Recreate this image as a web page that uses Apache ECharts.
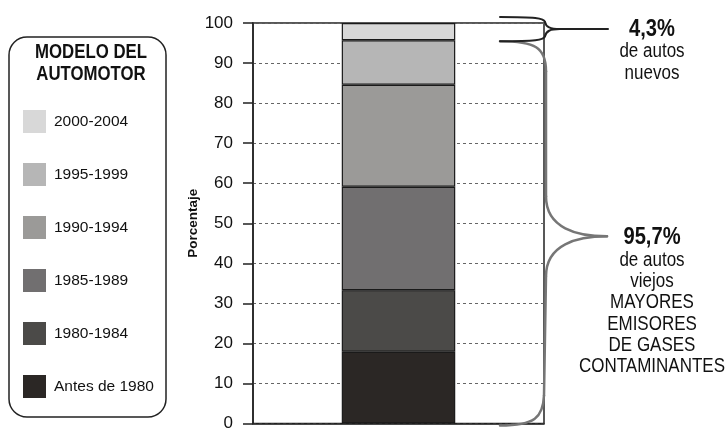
<!DOCTYPE html>
<html>
<head>
<meta charset="utf-8">
<script src="https://cdn.jsdelivr.net/npm/echarts@6/dist/echarts.min.js"></script>
<style>
html,body{margin:0;padding:0;background:#fff;}
#c{width:727px;height:432px;}
</style>
</head>
<body>
<div id="c"></div>
<script>
// ---- data ----
const categories = ['Autos'];
const seriesNames = ['Antes de 1980', '1980-1984', '1985-1989', '1990-1994', '1995-1999', '2000-2004'];
const seriesValues = [17.9, 15.4, 25.8, 25.5, 11.1, 4.3];
const seriesColors = ['#2b2725', '#4b4a48', '#716f70', '#9b9a98', '#b6b6b6', '#d8d8d8'];
const yTicks = [0, 10, 20, 30, 40, 50, 60, 70, 80, 90, 100];
const legendTitle = ['MODELO DEL', 'AUTOMOTOR'];
const yAxisName = 'Porcentaje';
const newLines = ['de autos', 'nuevos'];
const oldLines = ['de autos', 'viejos', 'MAYORES', 'EMISORES', 'DE GASES', 'CONTAMINANTES'];

const FONT = "'Liberation Sans',Arial,sans-serif";
const chart = echarts.init(document.getElementById('c'), null, {renderer: 'canvas'});

const series = seriesNames.map((n, i) => ({
  name: n,
  type: 'bar',
  stack: 'total',
  barWidth: '39%',
  data: [seriesValues[i]],
  itemStyle: {color: seriesColors[i], borderColor: '#1a1a1a', borderWidth: 1.2},
  emphasis: {disabled: true}
}));

const option = {
  animation: false,
  backgroundColor: '#fff',
  legend: {
    orient: 'vertical', left: 18, top: 105,
    itemWidth: 23, itemHeight: 23, itemGap: 30,
    icon: 'rect', selectedMode: false,
    itemStyle: {borderWidth: 0},
    data: seriesNames.slice().reverse(),
    textStyle: {fontFamily: FONT, fontSize: 15.5, color: '#111', padding: [0, 0, 0, 3]}
  },
  grid: {left: 253, right: 183, top: 23, bottom: 6, show: true, borderColor: '#222', borderWidth: 1.5, containLabel: false},
  xAxis: {
    type: 'category', data: categories,
    axisLine: {lineStyle: {color: '#222', width: 1.5}},
    axisTick: {show: false}, axisLabel: {show: false}
  },
  yAxis: {
    type: 'value', min: yTicks[0], max: yTicks[yTicks.length - 1], interval: yTicks[1] - yTicks[0],
    name: yAxisName, nameLocation: 'middle', nameRotate: 90, nameGap: 44,
    nameTextStyle: {fontFamily: FONT, fontSize: 13.5, fontWeight: 'bold', color: '#111'},
    axisLine: {show: true, lineStyle: {color: '#222', width: 1.5}},
    axisTick: {show: true, length: 10, lineStyle: {color: '#222', width: 1.5}},
    axisLabel: {fontFamily: FONT, fontSize: 17, color: '#111', margin: 20},
    splitLine: {show: true, lineStyle: {color: '#666', width: 1, type: [3, 3]}}
  },
  series: series
};
chart.setOption(option);

// ---- annotations (braces) positioned from the axis scale ----
const newPct = seriesValues[seriesValues.length - 1];
const oldPct = +(100 - newPct).toFixed(1);
const fmt = v => v.toFixed(1).replace('.', ',') + '%';
const yp = v => chart.convertToPixel({yAxisIndex: 0}, v);

const yTop = yp(100) - 6;
const ySplit = yp(oldPct) + 1;
const yBot = yp(0) + 2;
const yMidS = (yTop + ySplit) / 2;
const yMidB = (ySplit + yBot) / 2 + 3;
const x0 = 500, xv = 546, tipB = 607;

function bz(x1, y1, c1x, c1y, c2x, c2y, x2, y2, stroke, w, z) {
  return {type: 'bezierCurve', shape: {x1: x1, y1: y1, cpx1: c1x, cpy1: c1y, cpx2: c2x, cpy2: c2y, x2: x2, y2: y2},
    style: {fill: null, stroke: stroke, lineWidth: w, lineCap: 'round'}, z: z};
}
function ln(x1, y1, x2, y2, stroke, w, z) {
  return {type: 'line', shape: {x1: x1, y1: y1, x2: x2, y2: y2}, style: {stroke: stroke, lineWidth: w, lineCap: 'round'}, z: z};
}
const G = '#767676', K = '#222';
const braces = [
  // big grey brace
  bz(x0, ySplit, x0 + 35, ySplit, xv, ySplit + 6, xv, ySplit + 30, G, 2.5, 10),
  ln(xv, ySplit + 30, xv, yMidB - 40, G, 2.5, 10),
  bz(xv, yMidB - 40, xv, yMidB - 8, tipB - 30, yMidB, tipB, yMidB, G, 2.5, 10),
  bz(tipB, yMidB, tipB - 30, yMidB, xv, yMidB + 8, xv, yMidB + 40, G, 2.5, 10),
  ln(xv, yMidB + 40, xv - 2, yBot - 30, G, 2.5, 10),
  bz(xv - 2, yBot - 30, xv - 3, yBot - 8, x0 + 35, yBot, x0, yBot, G, 2.5, 10),
  // small dark brace
  bz(x0, yTop, x0 + 35, yTop, xv - 2, yTop + 1, xv - 1, yTop + 5, K, 2, 11),
  bz(xv - 1, yTop + 5, xv, yMidS - 2, xv + 4, yMidS, xv + 14, yMidS, K, 2, 11),
  bz(xv + 14, yMidS, xv + 4, yMidS, xv, yMidS + 2, xv - 1, ySplit - 5, K, 2, 11),
  bz(xv - 1, ySplit - 5, xv - 2, ySplit - 1, x0 + 35, ySplit, x0, ySplit, K, 2, 11),
  ln(xv + 14, yMidS, 608, yMidS, K, 2, 11)
];

const cx = 652;
function txt(t, x, y, size, bold, sx) {
  return {type: 'text', x: x, y: y, scaleX: sx, z: 12,
    style: {text: t, font: `${bold ? 'bold ' : ''}${size}px ${FONT}`, fill: '#111', align: 'center', verticalAlign: 'middle'}};
}
const texts = [];
texts.push(txt(fmt(newPct), cx, yMidS, 24, true, 0.84));
newLines.forEach((t, i) => texts.push(txt(t, cx, yMidS + 22 + i * 22, 20, false, 0.85)));
texts.push(txt(fmt(oldPct), cx, yMidB + 1, 24, true, 0.84));
oldLines.forEach((t, i) => texts.push(txt(t, cx, yMidB + 24 + i * 21.3, 20, false, 0.85)));
legendTitle.forEach((t, i) => texts.push(txt(t, 91, 52 + i * 22, 21, true, 0.8)));

chart.setOption({
  graphic: [
    {type: 'rect', shape: {x: 9, y: 37, width: 157, height: 380, r: 18}, style: {fill: null, stroke: '#222', lineWidth: 1.5}, z: 1}
  ].concat(braces, texts)
});
</script>
</body>
</html>
